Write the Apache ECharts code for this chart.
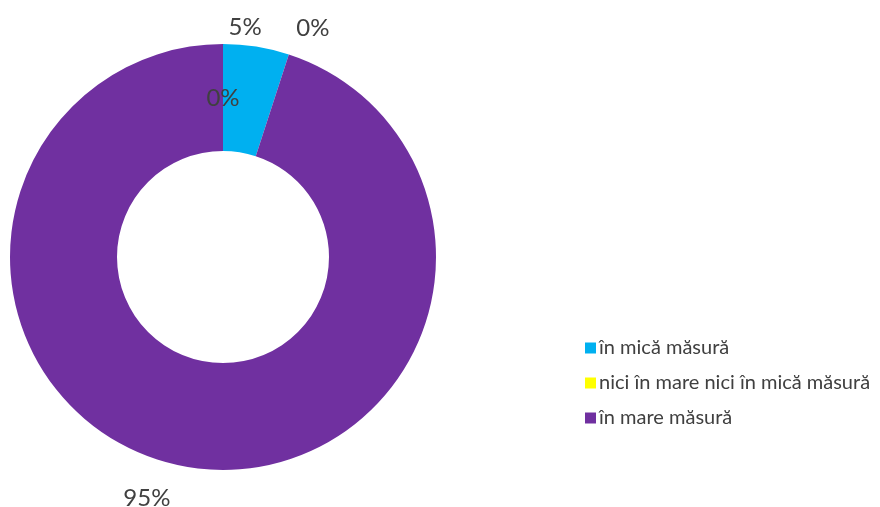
<!DOCTYPE html>
<html>
<head>
<meta charset="utf-8">
<script src="https://cdn.jsdelivr.net/npm/echarts@6/dist/echarts.min.js"></script>
<style>html,body{margin:0;padding:0;background:#fff;}#c{width:880px;height:507px;}</style>
</head>
<body>
<div id="c"></div>
<script>
const categories = ["deloc", "în mică măsură", "nici în mare nici în mică măsură", "în mare măsură"];
const values = [0, 5, 0, 95];
const legendNames = ["în mică măsură", "nici în mare nici în mică măsură", "în mare măsură"];
const colors = ["#7030A0", "#00B0F0", "#FFFF00", "#7030A0"];

const labelStyles = [
  { position: 'inside', offset: [0, 4] },
  { position: 'outside', offset: [-34, -11] },
  { position: 'outside', offset: [0, -19] },
  { position: 'outside', offset: [-13, 23] }
];

const chart = echarts.init(document.getElementById('c'));
chart.setOption({
  animation: false,
  legend: {
    orient: 'vertical',
    left: 585,
    top: 338,
    padding: 0,
    itemWidth: 11,
    itemHeight: 11,
    itemGap: 15,
    icon: 'rect',
    data: legendNames,
    textStyle: { fontFamily: 'Lato', fontSize: 20, color: '#404040', padding: [0,0,0,-2] }
  },
  series: [{
    type: 'pie',
    center: [223, 257],
    radius: [106, 213],
    startAngle: 90,
    clockwise: true,
    avoidLabelOverlap: false,
    silent: true,
    labelLine: { show: false, length: 8, length2: 0 },
    label: {
      fontFamily: 'Lato',
      fontSize: 24,
      color: '#404040',
      formatter: p => p.value + '%'
    },
    data: categories.map((n, i) => ({
      name: n,
      value: values[i],
      itemStyle: { color: colors[i] },
      label: labelStyles[i]
    }))
  }]
});
</script>
</body>
</html>
